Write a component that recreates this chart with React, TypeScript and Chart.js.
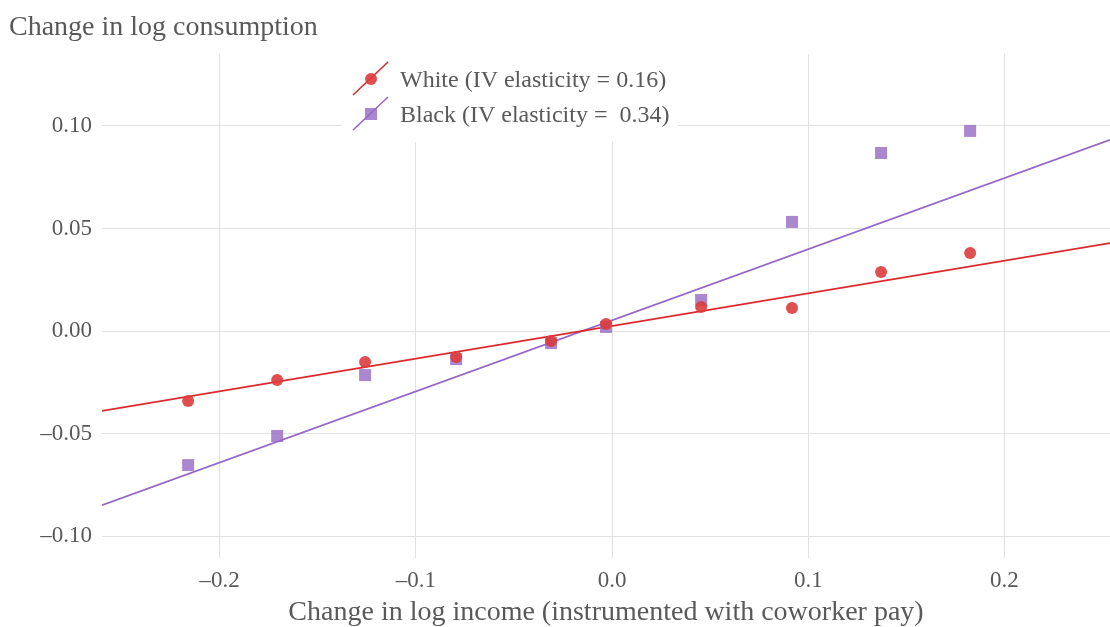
import React, { useEffect, useRef } from "react";
import { Chart, registerables } from "chart.js";

Chart.register(...registerables);

const binX = [-0.2161, -0.1707, -0.1259, -0.0795, -0.0311, -0.0031, 0.0454, 0.0917, 0.1371, 0.1825];
const whiteY = [-0.0341, -0.0239, -0.0151, -0.0127, -0.0049, 0.0034, 0.0117, 0.0112, 0.0288, 0.038];
const blackY = [-0.0654, -0.0512, -0.0215, -0.0137, -0.0059, 0.002, 0.0151, 0.0532, 0.0868, 0.0976];
const fitX = [-0.26, 0.2538];
const whiteFitY = [-0.039, 0.0429];
const blackFitY = [-0.0849, 0.0932];
const xTicks = [-0.2, -0.1, 0.0, 0.1, 0.2];
const yTicks = [-0.1, -0.05, 0.0, 0.05, 0.1];
const legendLabels = ["White (IV elasticity = 0.16)", "Black (IV elasticity =  0.34)"];
const titleText = "Change in log consumption";
const xTitleText = "Change in log income (instrumented with coworker pay)";

const SERIF = "'Liberation Serif', 'Times New Roman', serif";
const TEXT = "#595959";
const RED_LINE = "#dc2a2a";
const RED_PT = "rgba(221, 60, 60, 0.9)";
const PURPLE_LINE = "#9467c8";
const PURPLE_PT = "rgba(150, 105, 195, 0.8)";

const fmt = (v: number, d: number) => {
  const s = Math.abs(v).toFixed(d);
  return v < -1e-9 ? "\u2013" + s : s;
};

export default function App() {
  const ref = useRef<HTMLCanvasElement | null>(null);
  useEffect(() => {
    document.body.style.margin = "0";
    const canvas = ref.current;
    if (!canvas) return;

    const overlay = {
      id: "overlay",
      afterDraw(chart: any) {
        const ctx = chart.ctx;
        const area = chart.chartArea;
        ctx.save();
        // title
        ctx.fillStyle = TEXT;
        ctx.font = `28px ${SERIF}`;
        ctx.textAlign = "left";
        ctx.textBaseline = "alphabetic";
        ctx.fillText(titleText, 9, 35);
        // legend box
        ctx.fillStyle = "#ffffff";
        ctx.fillRect(342, area.top, 336, 142 - area.top);
        const items = [
          { y: 79, line: RED_LINE, pt: RED_PT, style: "circle", label: legendLabels[0] },
          { y: 114, line: PURPLE_LINE, pt: PURPLE_PT, style: "rect", label: legendLabels[1] },
        ];
        for (const it of items) {
          ctx.strokeStyle = it.line;
          ctx.lineWidth = 1.6;
          ctx.beginPath();
          ctx.moveTo(353, it.y + 16);
          ctx.lineTo(388, it.y - 17);
          ctx.stroke();
          ctx.fillStyle = it.pt;
          if (it.style === "circle") {
            ctx.beginPath();
            ctx.arc(371, it.y, 6, 0, Math.PI * 2);
            ctx.fill();
          } else {
            ctx.fillRect(365, it.y - 6, 12, 12);
          }
          ctx.fillStyle = TEXT;
          ctx.font = `24px ${SERIF}`;
          ctx.textAlign = "left";
          ctx.textBaseline = "alphabetic";
          ctx.fillText(it.label, 400, it.y + 8);
        }
        ctx.restore();
      },
    };

    const chart = new Chart(canvas, {
      type: "scatter",
      data: {
        datasets: [
          {
            type: "line",
            data: fitX.map((x, i) => ({ x, y: whiteFitY[i] })),
            borderColor: RED_LINE,
            borderWidth: 1.8,
            pointRadius: 0,
            fill: false,
            order: 2,
          } as any,
          {
            type: "line",
            data: fitX.map((x, i) => ({ x, y: blackFitY[i] })),
            borderColor: PURPLE_LINE,
            borderWidth: 1.8,
            pointRadius: 0,
            fill: false,
            order: 2,
          } as any,
          {
            data: binX.map((x, i) => ({ x, y: blackY[i] })),
            pointStyle: "rect",
            pointRadius: 8.5,
            backgroundColor: PURPLE_PT,
            borderWidth: 0,
            order: 1,
          },
          {
            data: binX.map((x, i) => ({ x, y: whiteY[i] })),
            pointStyle: "circle",
            pointRadius: 6,
            backgroundColor: RED_PT,
            borderWidth: 0,
            order: 0,
          },
        ],
      },
      options: {
        animation: false,
        responsive: false,
        layout: { autoPadding: false, padding: { top: 54, left: 0, right: 0, bottom: 0 } },
        plugins: {
          legend: { display: false },
          tooltip: { enabled: false },
          title: { display: false },
        },
        scales: {
          x: {
            type: "linear",
            min: -0.26,
            max: 0.2538,
            border: { display: false },
            grid: { color: "#e2e2e2", lineWidth: 1, drawTicks: false },
            afterBuildTicks: (s: any) => {
              s.ticks = xTicks.map((v) => ({ value: v }));
            },
            afterFit: (s: any) => {
              s.height = 69;
              s.paddingLeft = 0;
              s.paddingRight = 0;
            },
            ticks: {
              padding: 9,
              color: TEXT,
              font: { family: SERIF, size: 23 },
              callback: (v: any) => fmt(Number(v), 1),
            },
            title: {
              display: true,
              text: xTitleText,
              color: TEXT,
              font: { family: SERIF, size: 28, lineHeight: 1.0 },
              padding: { top: 0, bottom: 0 },
            },
          },
          y: {
            type: "linear",
            min: -0.1107,
            max: 0.1351,
            border: { display: false },
            grid: { color: "#e2e2e2", lineWidth: 1, drawTicks: false },
            afterBuildTicks: (s: any) => {
              s.ticks = yTicks.map((v) => ({ value: v }));
            },
            afterFit: (s: any) => {
              s.width = 102;
              s.paddingTop = 0;
              s.paddingBottom = 0;
            },
            ticks: {
              padding: 10,
              color: TEXT,
              font: { family: SERIF, size: 23 },
              callback: (v: any) => fmt(Number(v), 2),
            },
          },
        },
      },
      plugins: [overlay],
    } as any);
    return () => chart.destroy();
  }, []);
  return (
    <div style={{ width: 1110, height: 627 }}>
      <canvas ref={ref} width={1110} height={627} style={{ display: "block" }} />
    </div>
  );
}
